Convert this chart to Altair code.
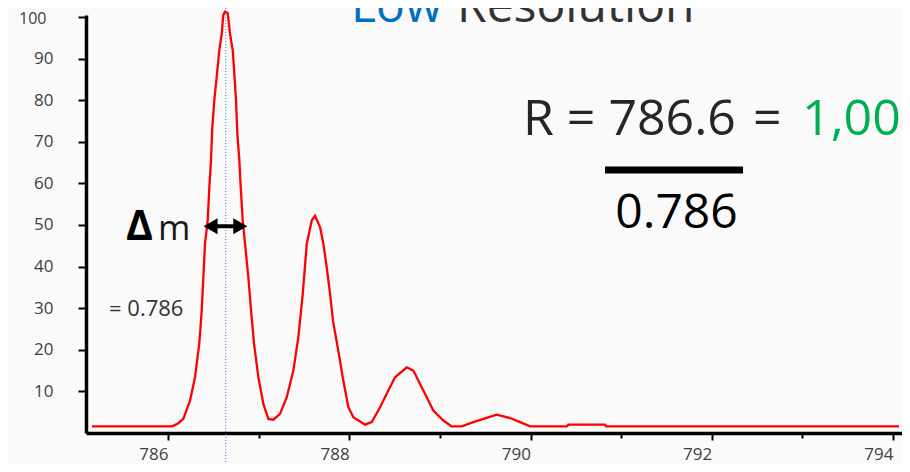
import altair as alt
import pandas as pd

# ---- spectrum (m/z vs relative intensity) ----
MZ = [785.161, 786.044, 786.110, 786.169, 786.243, 786.298, 786.345, 786.372, 786.390, 786.408,
      786.438, 786.456, 786.474, 786.489, 786.511, 786.537, 786.566, 786.593, 786.610, 786.629,
      786.659, 786.684, 786.714, 786.732, 786.750, 786.765, 786.787, 786.802, 786.824, 786.850,
      786.886, 786.916, 786.949, 786.997, 787.052, 787.107, 787.162, 787.236, 787.310, 787.383,
      787.438, 787.487, 787.531, 787.586, 787.622, 787.678, 787.714, 787.751, 787.788, 787.820,
      787.879, 787.934, 787.990, 788.045, 788.174, 788.248, 788.340, 788.431, 788.505, 788.634,
      788.707, 788.781, 788.855, 788.927, 789.038, 789.130, 789.241, 789.369, 789.480, 789.627,
      789.774, 789.885, 789.995, 790.400, 790.417, 790.822, 790.833, 794.066]
INTENSITY = [1.6, 1.6, 2.3, 3.4, 7.8, 13.4, 21.5, 29.5, 37.5, 45.5,
             51.1, 59.1, 65.6, 73.6, 80.0, 85.6, 92.0, 96.0, 100.5, 101.3,
             100.9, 96.0, 92.0, 86.4, 80.0, 72.0, 65.6, 59.1, 51.1, 45.5,
             37.5, 29.5, 21.5, 13.4, 7.0, 3.4, 3.2, 4.6, 8.6, 15.0,
             23.0, 33.5, 45.5, 51.1, 52.2, 49.5, 45.5, 39.9, 33.5, 27.0,
             19.8, 12.6, 6.2, 3.8, 2.0, 2.6, 6.2, 10.2, 13.4, 15.8,
             15.0, 11.8, 8.6, 5.4, 3.0, 1.6, 1.6, 2.6, 3.4, 4.4,
             3.6, 2.6, 1.6, 1.6, 2.0, 2.0, 1.6, 1.6]

X_TICKS = [786 + 0.5 * i for i in range(17)]
Y_TICKS = [10, 20, 30, 40, 50, 60, 70, 80, 90, 100]
X_DOMAIN = [785.095, 794.099]
Y_DOMAIN = [0, 100.48]

# ---- annotations (data coordinates) ----
PEAK_MZ = 786.637
PEAK_LINE_Y = [-12, 110]
ARROW_X = [786.427, 786.839]
ARROW_Y = 49.7
HEAD_X = [786.47, 786.797]
HEAD_SHAPE = ["triangle-left", "triangle-right"]
FRAC_X = [790.822, 792.345]
FRAC_Y = 63.2

TXT_LABEL = ["Low", "Resolution", "R = 786.6", "=", "1,000", "0.786", "Δ", "m", "= 0.786"]
TXT_X = [788.019, 789.189, 789.917, 792.455, 792.996, 791.611, 785.537, 785.890, 785.349]
TXT_Y = [98.8, 98.8, 71.6, 71.6, 71.6, 49.3, 46.4, 46.4, 28.1]
TXT_SIZE = [48, 48, 50, 50, 50, 48, 41, 35, 22]
TXT_COLOR = ["#0070C0", "#333333", "#262626", "#262626", "#00B050", "#000000", "#000000",
             "#1a1a1a", "#333333"]
TXT_WEIGHT = ["normal", "normal", "normal", "normal", "normal", "normal", "bold", "normal", "normal"]
TXT_ALIGN = ["left", "left", "left", "left", "left", "center", "left", "left", "left"]

FONT = "Open Sans"

spec = pd.DataFrame({"mz": MZ, "intensity": INTENSITY})

xscale = alt.Scale(domain=X_DOMAIN, nice=False, zero=False)
yscale = alt.Scale(domain=Y_DOMAIN, nice=False, zero=False)

xaxis = alt.Axis(
    title=None, grid=False, values=X_TICKS, format="d",
    labelExpr="datum.value % 2 == 0 ? datum.label : ''",
    domainColor="black", domainWidth=3.5, tickColor="black", tickWidth=2,
    tickSize={"condition": {"test": "datum.value % 2 == 0", "value": 7}, "value": 5},
    labelAlign="right", labelBaseline="top", labelPadding=6,
    labelFont=FONT, labelFontSize=17, labelColor="#404040", labelFlush=False,
)
yaxis = alt.Axis(
    title=None, grid=False, values=Y_TICKS,
    domainColor="black", domainWidth=3.5, tickColor="black", tickWidth=2, tickSize=8,
    labelPadding={"condition": {"test": "datum.value == 100", "value": 32}, "value": 25},
    labelOffset={"condition": {"test": "datum.value == 100", "value": 2}, "value": 0},
    labelFontSize={"condition": {"test": "datum.value == 100", "value": 16}, "value": 17},
    labelFont=FONT, labelColor="#404040", labelBaseline="middle", labelFlush=False,
)

X = lambda f: alt.X(f, type="quantitative", scale=xscale, axis=xaxis)
Y = lambda f: alt.Y(f, type="quantitative", scale=yscale, axis=yaxis)

line = alt.Chart(spec).mark_line(color="#ff0000", strokeWidth=2.3, clip=False).encode(
    x=X("mz"), y=Y("intensity"))

peak_df = pd.DataFrame({"mz": [PEAK_MZ], "y1": [PEAK_LINE_Y[0]], "y2": [PEAK_LINE_Y[1]]})
peak_rule = alt.Chart(peak_df).mark_rule(color="#4472C4", strokeWidth=1, strokeDash=[1, 2]).encode(
    x=X("mz"), y=Y("y1"), y2="y2")

arrow_df = pd.DataFrame({"x1": [ARROW_X[0]], "x2": [ARROW_X[1]], "y": [ARROW_Y]})
arrow = alt.Chart(arrow_df).mark_rule(color="black", strokeWidth=4).encode(
    x=X("x1"), x2="x2", y=Y("y"))

heads_df = pd.DataFrame({"x": HEAD_X, "y": [ARROW_Y] * 2, "shape": HEAD_SHAPE})
heads = alt.Chart(heads_df).mark_point(filled=True, color="black", size=260, opacity=1).encode(
    x=X("x"), y=Y("y"),
    shape=alt.Shape("shape:N", scale=alt.Scale(domain=HEAD_SHAPE, range=HEAD_SHAPE), legend=None))

frac_df = pd.DataFrame({"x1": [FRAC_X[0]], "x2": [FRAC_X[1]], "y": [FRAC_Y]})
frac = alt.Chart(frac_df).mark_rule(color="black", strokeWidth=7).encode(
    x=X("x1"), x2="x2", y=Y("y"))

layers = [peak_rule, line, arrow, heads, frac]
for lab, tx, ty, sz, col, wt, al in zip(TXT_LABEL, TXT_X, TXT_Y, TXT_SIZE, TXT_COLOR, TXT_WEIGHT, TXT_ALIGN):
    d = pd.DataFrame({"x": [tx], "y": [ty], "t": [lab]})
    layers.append(
        alt.Chart(d).mark_text(font=FONT, fontSize=sz, color=col, fontWeight=wt,
                               align=al, baseline="alphabetic").encode(
            x=X("x"), y=Y("y"), text="t:N"))

chart = alt.layer(*layers).properties(
    width=816, height=418,
    autosize=alt.AutoSizeParams(type="none"),
    padding={"left": 78, "top": 7, "right": 0, "bottom": 31},
    background="#fafafa",
).configure_view(stroke=None)

chart.save("out.html", embed_options={"renderer": "svg", "actions": False})
